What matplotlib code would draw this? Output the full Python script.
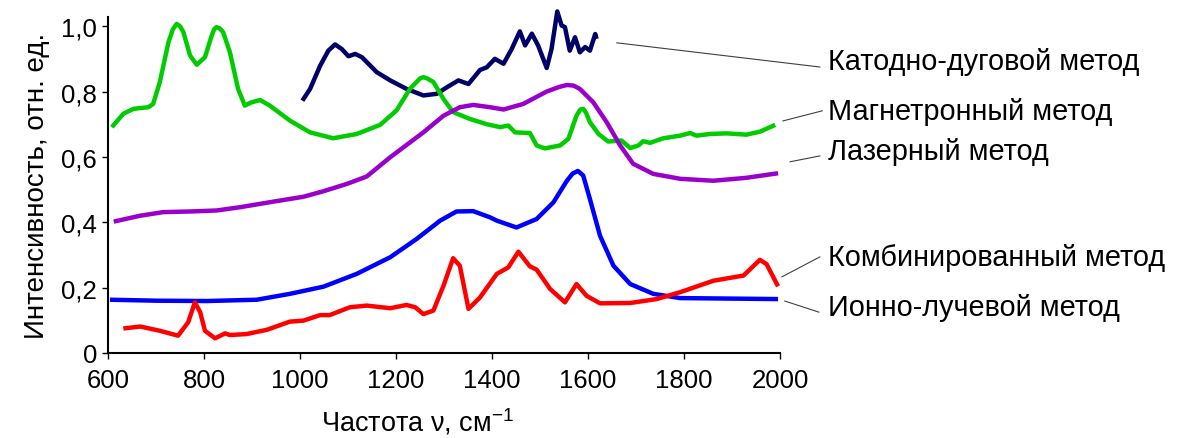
import matplotlib
matplotlib.use("Agg")
import matplotlib.pyplot as plt
from matplotlib.ticker import FuncFormatter

plt.rcParams['font.family'] = ['Liberation Sans', 'DejaVu Sans']
plt.rcParams['mathtext.fontset'] = 'custom'
plt.rcParams['mathtext.rm'] = 'Liberation Sans'

# Катодно-дуговой метод
x_cathode = [1005, 1021, 1042, 1059, 1073, 1087, 1101, 1115, 1129, 1160, 1188, 1222,
             1257, 1285, 1306, 1330, 1351, 1375, 1389, 1406, 1424, 1441, 1458, 1469,
             1483, 1496, 1514, 1524, 1536, 1545, 1552, 1562, 1573, 1583, 1594, 1604,
             1615, 1618]
y_cathode = [0.772, 0.808, 0.879, 0.925, 0.944, 0.930, 0.908, 0.915, 0.905, 0.859, 0.834, 0.808,
             0.788, 0.793, 0.813, 0.834, 0.823, 0.866, 0.874, 0.900, 0.885, 0.930, 0.984, 0.941,
             0.977, 0.941, 0.872, 0.930, 1.045, 1.002, 0.997, 0.925, 0.966, 0.920, 0.936, 0.925,
             0.976, 0.961]

# Магнетронный метод
x_magnetron = [608, 632, 653, 684, 694, 708, 726, 735, 743, 750, 757, 771, 785, 802, 816,
               821, 826, 833, 840, 854, 871, 885, 899, 917, 937, 979, 1021, 1069, 1118, 1167,
               1201, 1229, 1250, 1257, 1265, 1278, 1299, 1319, 1354, 1389, 1417, 1434, 1448,
               1479, 1493, 1510, 1542, 1559, 1576, 1584, 1590, 1596, 1604, 1622, 1642, 1670,
               1688, 1705, 1715, 1729, 1757, 1792, 1813, 1826, 1854, 1889, 1930, 1958, 1990]
y_magnetron = [0.691, 0.732, 0.747, 0.752, 0.762, 0.829, 0.951, 0.990, 1.007, 1.000, 0.982, 0.910,
               0.882, 0.905, 0.971, 0.990, 0.997, 0.993, 0.981, 0.920, 0.808, 0.757, 0.767, 0.774,
               0.757, 0.711, 0.675, 0.657, 0.670, 0.698, 0.742, 0.808, 0.840, 0.844, 0.840, 0.829,
               0.777, 0.737, 0.716, 0.700, 0.691, 0.696, 0.675, 0.673, 0.635, 0.626, 0.635, 0.655,
               0.726, 0.745, 0.747, 0.735, 0.706, 0.670, 0.647, 0.650, 0.627, 0.635, 0.648, 0.643,
               0.657, 0.665, 0.673, 0.665, 0.670, 0.672, 0.668, 0.677, 0.698]

# Лазерный метод
x_laser = [612, 667, 715, 771, 826, 875, 944, 1007, 1049, 1097, 1139, 1188, 1257, 1299,
           1333, 1361, 1396, 1424, 1465, 1514, 1540, 1556, 1570, 1583, 1611, 1639, 1667,
           1694, 1736, 1792, 1861, 1930, 1996]
y_laser = [0.402, 0.420, 0.431, 0.433, 0.436, 0.446, 0.463, 0.478, 0.495, 0.517, 0.540, 0.599,
           0.675, 0.726, 0.752, 0.759, 0.752, 0.745, 0.762, 0.800, 0.814, 0.820, 0.818, 0.808,
           0.767, 0.706, 0.635, 0.579, 0.548, 0.533, 0.527, 0.536, 0.550]

# Ионно-лучевой метод
x_ion = [604, 701, 806, 910, 979, 1049, 1118, 1188, 1243, 1292, 1326, 1361, 1396, 1410,
         1451, 1493, 1528, 1556, 1568, 1579, 1590, 1604, 1625, 1653, 1688, 1736, 1792, 1996]
y_ion = [0.163, 0.160, 0.159, 0.163, 0.181, 0.203, 0.242, 0.293, 0.349, 0.405, 0.433, 0.434,
         0.415, 0.405, 0.384, 0.410, 0.461, 0.527, 0.549, 0.557, 0.543, 0.471, 0.359, 0.267,
         0.211, 0.181, 0.168, 0.165]

# Комбинированный метод
x_comb = [632, 667, 708, 746, 767, 781, 792, 802, 823, 844, 854, 889, 931, 979, 1007, 1042,
          1062, 1104, 1139, 1188, 1222, 1240, 1257, 1278, 1299, 1319, 1333, 1351, 1375,
          1410, 1434, 1455, 1479, 1493, 1521, 1552, 1576, 1597, 1625, 1688, 1743, 1792,
          1861, 1924, 1958, 1972, 1996]
y_comb = [0.075, 0.081, 0.068, 0.053, 0.094, 0.155, 0.125, 0.068, 0.045, 0.060, 0.055, 0.058,
          0.071, 0.096, 0.099, 0.116, 0.116, 0.140, 0.145, 0.137, 0.147, 0.140, 0.119, 0.130,
          0.206, 0.290, 0.267, 0.135, 0.170, 0.242, 0.262, 0.310, 0.265, 0.255, 0.196, 0.155,
          0.211, 0.175, 0.152, 0.153, 0.165, 0.186, 0.221, 0.237, 0.285, 0.272, 0.204]

series = [
    (x_cathode, y_cathode, '#000066'),
    (x_magnetron, y_magnetron, '#00cc00'),
    (x_laser, y_laser, '#9900cc'),
    (x_ion, y_ion, '#0000ff'),
    (x_comb, y_comb, '#ff0000'),
]

# подписи: текст, начало выноски, конец выноски, положение текста
labels = [
    ('Катодно-дуговой метод', (1660, 0.949), (2083, 0.875), (2100, 0.894)),
    ('Магнетронный метод', (2006, 0.710), (2088, 0.741), (2100, 0.741)),
    ('Лазерный метод', (2021, 0.585), (2083, 0.603), (2100, 0.618)),
    ('Комбинированный метод', (2004, 0.233), (2083, 0.294), (2100, 0.294)),
    ('Ионно-лучевой метод', (2010, 0.159), (2081, 0.125), (2100, 0.141)),
]

fig = plt.figure(figsize=(11.81, 4.39), dpi=100)
ax = fig.add_axes([108 / 1181, 85 / 439, 672 / 1181, 336 / 439])

for xs, ys, c in series:
    ax.plot(xs, ys, color=c, lw=3.2, solid_capstyle='butt', solid_joinstyle='round',
            clip_on=False)

for text, p0, p1, pt in labels:
    ax.plot([p0[0], p1[0]], [p0[1], p1[1]], color='#404040', lw=0.8, clip_on=False)
    ax.text(pt[0], pt[1], text, fontsize=20.8, ha='left', va='center', clip_on=False)

ax.set_xlim(600, 2000)
ax.set_ylim(0, 1.028)
ax.set_xticks(range(600, 2001, 200))
ax.set_yticks([0, 0.2, 0.4, 0.6, 0.8, 1.0])
ax.yaxis.set_major_formatter(FuncFormatter(lambda v, p: '0' if v == 0 else ('%.1f' % v).replace('.', ',')))
ax.tick_params(direction='out', length=4, width=1, labelsize=18.5, colors='black')
ax.tick_params(axis='x', pad=7)
ax.tick_params(axis='y', pad=4)
ax.spines['top'].set_visible(False)
ax.spines['right'].set_visible(False)
for s in ('left', 'bottom'):
    ax.spines[s].set_linewidth(1.5)

ax.set_xlabel(r'Частота ν, см$^{-1}$', fontsize=19.5)
ax.xaxis.set_label_coords(0.461, -0.158)
ax.set_ylabel('Интенсивность, отн. ед.', fontsize=20, labelpad=8)

fig.savefig('out.png', dpi=100)
